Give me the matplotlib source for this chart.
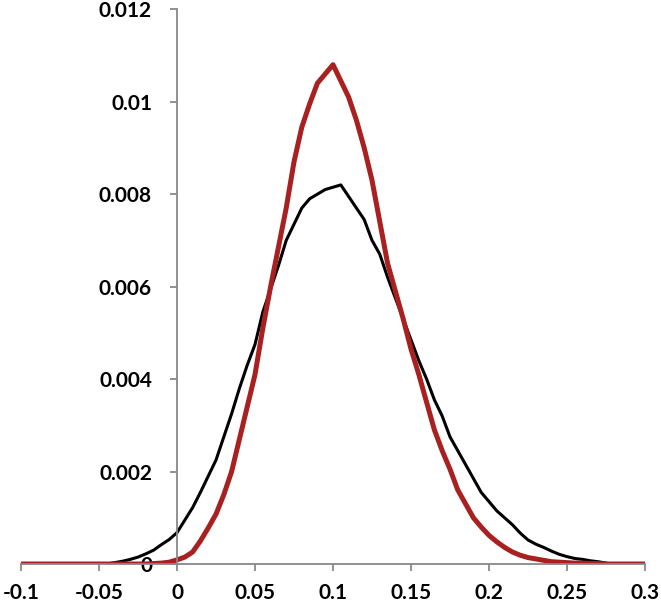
import matplotlib
matplotlib.use('Agg')
import matplotlib.pyplot as plt
import numpy as np

# x grid of the two density curves
x_black = np.round(np.arange(-0.045, 0.2751, 0.005), 3)
x_red = np.round(np.arange(-0.1, 0.3001, 0.005), 3)

# wider curve (black), values in units of 1e-3
y_black = [0.00, 0.03, 0.06, 0.10, 0.15, 0.22, 0.30, 0.42, 0.53, 0.68,
           0.95, 1.22, 1.55, 1.90, 2.25, 2.75, 3.25, 3.80, 4.30, 4.75,
           5.45, 5.95, 6.45, 7.00, 7.35, 7.70, 7.90, 8.00, 8.10, 8.15,
           8.20, 7.95, 7.70, 7.45, 7.00, 6.70, 6.20, 5.75, 5.30, 4.85,
           4.40, 4.00, 3.55, 3.20, 2.75, 2.45, 2.15, 1.85, 1.55, 1.35,
           1.15, 1.00, 0.85, 0.67, 0.52, 0.43, 0.36, 0.28, 0.21, 0.16,
           0.12, 0.10, 0.07, 0.05, 0.02]

# narrower curve (red), values in units of 1e-3
y_red = [0.00] * 17 + [
           0.01, 0.02, 0.04, 0.09,
           0.15, 0.26, 0.50, 0.78, 1.08, 1.50, 2.00, 2.70, 3.40, 4.10,
           5.10, 6.00, 6.85, 7.70, 8.70, 9.45, 9.95, 10.40, 10.60, 10.80,
           10.45, 10.10, 9.60, 9.00, 8.30, 7.40, 6.50, 5.90, 5.30, 4.65,
           4.10, 3.50, 2.90, 2.45, 2.05, 1.60, 1.30, 1.00, 0.80, 0.62,
           0.48, 0.36, 0.26, 0.19, 0.14, 0.11, 0.08, 0.05, 0.04, 0.03,
           0.02, 0.02, 0.01, 0.01, 0.00, 0.00, 0.00, 0.00, 0.00, 0.00]

x_ticks = [-0.1, -0.05, 0, 0.05, 0.1, 0.15, 0.2, 0.25, 0.3]
x_labels = ['-0.1', '-0.05', '0', '0.05', '0.1', '0.15', '0.2', '0.25', '0.3']
y_ticks = [0, 0.002, 0.004, 0.006, 0.008, 0.01, 0.012]
y_labels = ['0', '0.002', '0.004', '0.006', '0.008', '0.01', '0.012']

plt.rcParams['font.family'] = ['Lato', 'DejaVu Sans']

fig = plt.figure(figsize=(6.61, 6.07), dpi=100)
ax = fig.add_axes([0.0318, 0.0708, 0.944, 0.914])

ax.plot(x_black, np.array(y_black) * 1e-3, color='black', linewidth=2.2)
ax.plot(x_red, np.array(y_red) * 1e-3, color='#a82020', linewidth=3.6)

ax.set_xlim(-0.1, 0.3)
ax.set_ylim(0, 0.012)

grey = '#888888'
ax.spines['top'].set_visible(False)
ax.spines['right'].set_visible(False)
ax.spines['left'].set_position(('data', 0))
for s in ('left', 'bottom'):
    ax.spines[s].set_color(grey)
    ax.spines[s].set_linewidth(1.3)

ax.set_xticks(x_ticks)
ax.set_xticklabels(x_labels)
ax.set_yticks(y_ticks)
ax.set_yticklabels(y_labels)
ax.tick_params(axis='x', direction='out', length=5, width=1.3, color=grey, pad=9)
ax.tick_params(axis='y', direction='out', length=5, width=1.3, color=grey, pad=13)
for t in ax.get_xticklabels() + ax.get_yticklabels():
    t.set_fontsize(15)
    t.set_fontweight('bold')

plt.savefig('out.png', dpi=100)
plt.close()
